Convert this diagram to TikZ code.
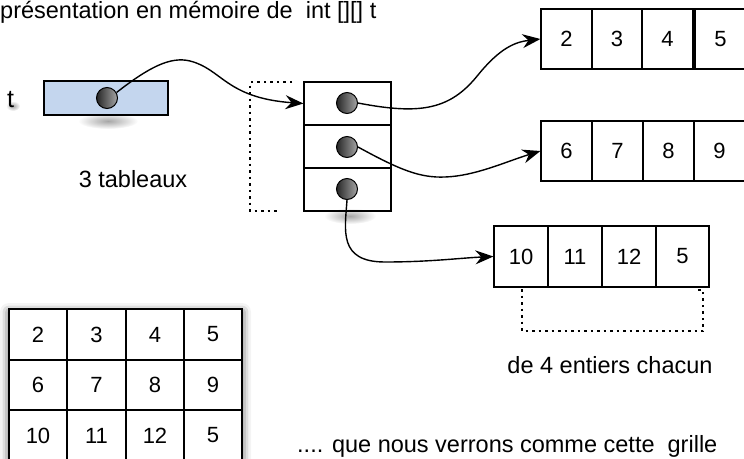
\documentclass[tikz,border=0pt]{standalone}
\usepackage{fontspec}
\setmainfont{Liberation Sans}
\usetikzlibrary{arrows.meta,shadows.blur,fadings}

\definecolor{boxblue}{RGB}{196,214,238}
\tikzfading[name=softblob, inner color=transparent!0, outer color=transparent!100]

\tikzset{
  txt/.style={inner sep=0pt, font=\fontsize{23.5}{28}\selectfont},
  cell/.style={draw, line width=1.2pt, inner sep=0pt, fill=white,
               font=\fontsize{22}{26}\selectfont},
  ptrcell/.style={draw, line width=1.2pt, inner sep=0pt, minimum width=87pt, minimum height=43pt},
  ball/.style={circle, draw, line width=1pt, minimum size=21pt, inner sep=0pt,
               left color=black!85, right color=black!35},
  link/.style={line width=1.4pt, -{Stealth[length=18pt, width=14pt, inset=6pt]}},
  bracket/.style={line width=1.3pt, dash pattern=on 2.5pt off 4pt},
  softshade/.style={fill=black!35, path fading=softblob},
}

\begin{document}
\begin{tikzpicture}[x=1pt, y=-1pt]
\useasboundingbox (0,0) rectangle (744,458);

% heading
\node[txt, anchor=base west] (title) at (0,18) {présentation en mémoire de\ \ int [][] t};

% variable t and its reference box
\fill[softshade] (13,106) ellipse (7 and 5);
\node[txt, anchor=base west, font=\fontsize{25}{30}\selectfont] (tlabel) at (7,107) {t};
\fill[softshade] (108,121) ellipse (30 and 8);
\node[draw, line width=1.2pt, fill=boxblue, minimum width=124pt, minimum height=34pt, inner sep=0pt] (tbox) at (106,98) {};
\node[ball] (tptr) at (107,98) {};

\node[txt, anchor=base] (nbtab) at (133,187) {3 tableaux};

% array of three row references
\draw[bracket] (292,82) -- (250,82) -- (250,211) -- (279,211);
\fill[softshade] (350,216) ellipse (26 and 8);
\node[ptrcell] (p1) at (347.5,103.5) {};
\node[ptrcell] (p2) at (347.5,146.5) {};
\node[ptrcell] (p3) at (347.5,189.5) {};
\node[ball] (c1) at (347,103) {};
\node[ball] (c2) at (347,147) {};
\node[ball] (c3) at (347,189) {};

% row arrays
\foreach \x/\w/\v [count=\i] in {566.5/51/2, 617/50/3, 667.5/51/4, 720.5/51/5}
  \node[cell, minimum width=\w pt, minimum height=60pt] (ra-\i) at (\x,39) {\v};
\foreach \x/\v [count=\i] in {566.5/6, 617.5/7, 668.5/8, 719.5/9}
  \node[cell, minimum width=51pt, minimum height=60pt] (rb-\i) at (\x,151) {\v};
\foreach \x/\w/\v [count=\i] in {521/54/10, 575/54/11, 629/54/12, 682.5/53/5}
  \node[cell, minimum width=\w pt, minimum height=61pt] (rc-\i) at (\x,256.5) {\v};

\draw[bracket] (522,289) -- (522,331) -- (703,331) -- (703,290) -- (697,290);
\node[txt, anchor=base] (chacun) at (610,373) {de 4 entiers chacun};

% references
\draw[link] (tptr.30) .. controls (148,68) and (170,56) .. (190,61)
            .. controls (222,69) and (226,98) .. (p1.west);
\draw[link] (c1.east) .. controls (420,115) and (450,110) .. (478,75)
            .. controls (500,48) and (515,42) .. (ra-1.west);
\draw[link] (c2.east) .. controls (400,170) and (420,178) .. (445,177)
            .. controls (475,176) and (505,162) .. (rb-1.west);
\draw[link] (c3.south) .. controls (345,230) and (338,262) .. (385,262)
            .. controls (430,262) and (460,258) .. (rc-1.west);

% the same values seen as a grid
\fill[white, blur shadow={shadow xshift=0pt, shadow yshift=-3pt, shadow blur radius=9pt, shadow opacity=70}]
  (9,309) rectangle (242,470);
\foreach \y/\h/\row [count=\r] in {334.5/51/{2,3,4,5}, 385/50/{6,7,8,9}, 435.5/51/{10,11,12,5}}
  \foreach \v [count=\c] in \row {
    \pgfmathsetmacro{\cx}{{38,96.5,155,213}[\c-1]}
    \pgfmathsetmacro{\cw}{{58,59,58,58}[\c-1]}
    \node[cell, minimum width=\cw pt, minimum height=\h pt] (g-\r-\c) at (\cx,\y) {\v};
  }

\node[txt, anchor=base west] (grille) at (297,452) {.... que nous verrons comme cette\ \ grille};
\end{tikzpicture}
\end{document}
